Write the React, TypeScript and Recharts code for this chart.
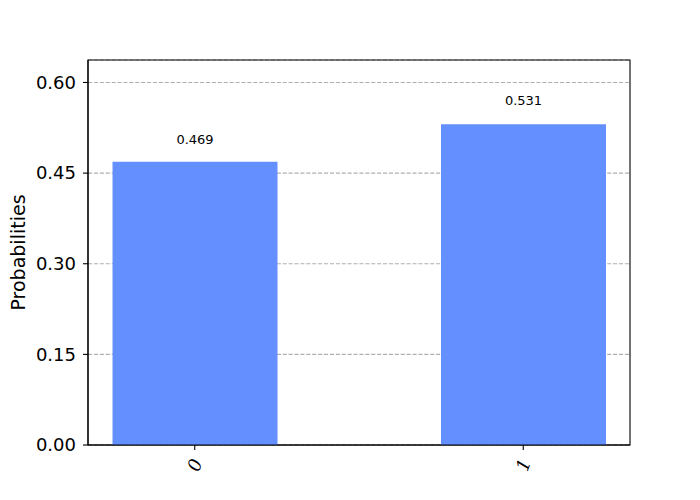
import React from "react";
import {
  BarChart,
  Bar,
  XAxis,
  YAxis,
  CartesianGrid,
  LabelList,
  ReferenceArea,
} from "recharts";

const categories = ["0", "1"];
const probabilities = [0.469, 0.531];
const yTicks = [0, 0.15, 0.3, 0.45, 0.6];
const xTicks = [0, 1];

const data = categories.map((c, i) => ({ x: i, label: c, p: probabilities[i] }));

const yMax = Math.max(...probabilities) * 1.2;
const xDomain: [number, number] = [-0.325, categories.length - 1 + 0.325];

const XTick = (props: any) => {
  const { x, y, payload } = props;
  const label = categories[payload.value] ?? String(payload.value);
  return (
    <g transform={`translate(${x},${y + 13}) rotate(-70)`}>
      <text
        x={0}
        y={0}
        textAnchor="middle"
        dy="0.35em"
        fontFamily="'DejaVu Serif', serif"
        fontStyle="italic"
        fontSize={18}
        fill="#000"
      >
        {label}
      </text>
    </g>
  );
};

const YLabel = (props: any) => {
  const vb = props.viewBox || { x: 0, y: 0, width: 88, height: 385 };
  const cx = vb.x + 25;
  const cy = vb.y + vb.height / 2;
  return (
    <text
      x={cx}
      y={cy}
      transform={`rotate(-90, ${cx}, ${cy})`}
      textAnchor="middle"
      fontFamily="'DejaVu Sans', sans-serif"
      fontSize={19}
      fill="#000"
    >
      Probabilities
    </text>
  );
};

// label placed at 1.05 × value (bottom of text box), as in the reference
const ValueLabel = (props: any) => {
  const { x, y, width, height, value } = props;
  const cx = Number(x) + Number(width) / 2;
  const by = Number(y) - 0.05 * Number(height) - 3;
  return (
    <text
      x={cx}
      y={by}
      textAnchor="middle"
      fontFamily="'DejaVu Sans', sans-serif"
      fontSize={13}
      fill="#000"
    >
      {Number(value).toFixed(3)}
    </text>
  );
};

export default function App() {
  return (
    <div style={{ position: "absolute", left: 0, top: 0, width: 700, height: 500, background: "#fff" }}>
      <BarChart
        width={700}
        height={500}
        data={data}
        margin={{ top: 60, right: 70, bottom: 0, left: 0 }}
      >
        <CartesianGrid
          vertical={false}
          stroke="#b0b0b0"
          strokeDasharray="4.1 1.8"
          strokeWidth={1.1}
        />
        <XAxis
          dataKey="x"
          type="number"
          domain={xDomain}
          ticks={xTicks}
          allowDataOverflow
          height={55}
          tickSize={5}
          tick={<XTick />}
          axisLine={{ stroke: "#000", strokeWidth: 1.1 }}
          tickLine={{ stroke: "#000", strokeWidth: 1.1 }}
          interval={0}
        />
        <YAxis
          type="number"
          domain={[0, yMax]}
          ticks={yTicks}
          allowDataOverflow
          width={88}
          tickSize={5}
          tickMargin={7}
          tickFormatter={(v: number) => v.toFixed(2)}
          tick={{ fontSize: 18, fill: "#000", fontFamily: "'DejaVu Sans', sans-serif" }}
          axisLine={{ stroke: "#000", strokeWidth: 1.1 }}
          tickLine={{ stroke: "#000", strokeWidth: 1.1 }}
          interval={0}
          label={<YLabel />}
        />
        <Bar dataKey="p" fill="#648fff" barSize={165} isAnimationActive={false}>
          <LabelList dataKey="p" content={<ValueLabel />} />
        </Bar>
        <ReferenceArea
          x1={xDomain[0]}
          x2={xDomain[1]}
          y1={0}
          y2={yMax}
          fill="none"
          fillOpacity={0}
          stroke="#000"
          strokeWidth={1.1}
          ifOverflow="extendDomain"
        />
      </BarChart>
    </div>
  );
}
